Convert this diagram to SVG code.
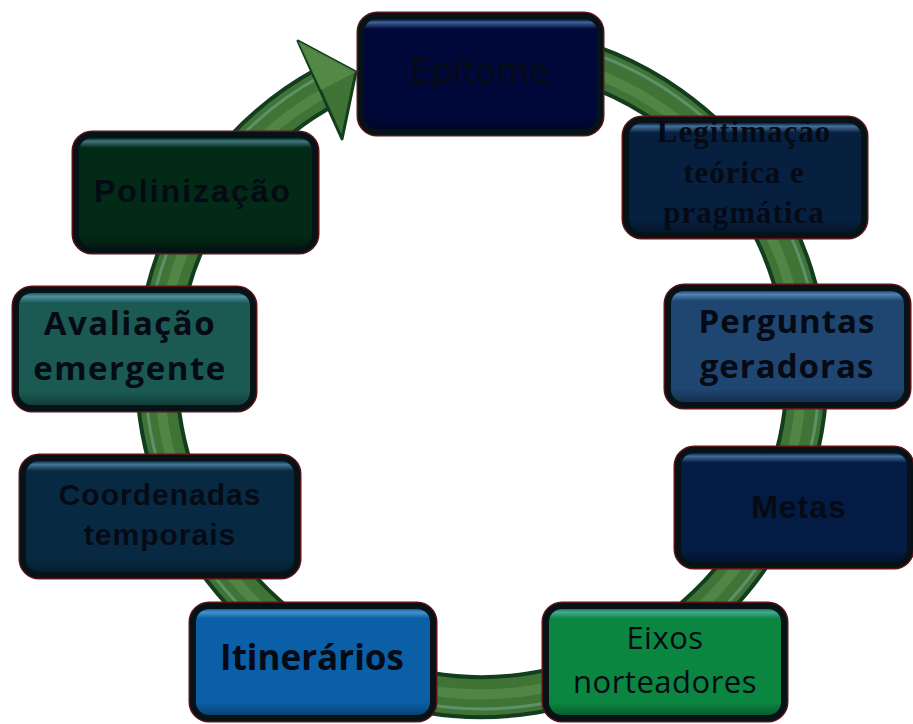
<svg xmlns="http://www.w3.org/2000/svg" width="913" height="724" viewBox="0 0 913 724">
<defs>
<linearGradient id="gloss" x1="0" y1="0" x2="0" y2="1">
<stop offset="0" stop-color="#8fd0ff" stop-opacity="0"/>
<stop offset="0.03" stop-color="#8fd0ff" stop-opacity="0.45"/>
<stop offset="0.09" stop-color="#8fd0ff" stop-opacity="0"/>
<stop offset="0.88" stop-color="#000" stop-opacity="0"/>
<stop offset="1" stop-color="#000" stop-opacity="0.3"/>
</linearGradient>
</defs>
<style>
.edge{fill:none;stroke:#5a1418;stroke-width:9}
.box{stroke:#061216;stroke-width:6}
.gl{fill:url(#gloss)}
.r0{fill:none;stroke:#123d1e;stroke-width:44}
.r1{fill:none;stroke:#3f7436;stroke-width:36}
.r2{fill:none;stroke:#5e9150;stroke-width:10;stroke-opacity:0.6}
.r3{fill:none;stroke:#7fb7a8;stroke-width:3;stroke-opacity:0.45}
.t{fill:#060a14;text-anchor:middle}
.os{font-family:"Open Sans","Liberation Sans",sans-serif;font-weight:bold}
.ls{font-family:"Liberation Sans",Arial,sans-serif;font-weight:bold}
.sf{font-family:"Liberation Serif","Times New Roman",serif;font-weight:bold}
</style>
<g id="connectors">
<path class="r0" d="M538.4 52 A325 325 0 1 1 326.9 86.4"/>
<path class="r1" d="M538.4 52 A325 325 0 1 1 326.9 86.4"/>
<path class="r2" d="M535 57 A321 321 0 1 1 328.9 90.5"/>
<path class="r3" d="M541 40 A337 337 0 1 1 321 76"/>
<polygon points="356,72 298,41 342,139" fill="#3f7436" stroke="#123d1e" stroke-width="3" stroke-linejoin="round"/>
<polygon points="356,72 298,41 321,90" fill="#5a8f4a" opacity="0.8"/>
</g>
<g id="epitome">
<rect class="edge" x="361" y="16" width="239" height="116" rx="16"/>
<rect class="box" x="361" y="16" width="239" height="116" rx="16" fill="#00083a"/>
<rect class="gl" x="364" y="19" width="233" height="110" rx="13"/>
<text class="t" x="480" y="83" font-family="DejaVu Sans,sans-serif" font-size="34" fill="#050a26">Epítome</text>
</g>
<g id="legitimacao">
<rect class="edge" x="626" y="120" width="238" height="115" rx="16"/>
<rect class="box" x="626" y="120" width="238" height="115" rx="16" fill="#072040"/>
<rect class="gl" x="629" y="123" width="232" height="109" rx="13"/>
<text class="t sf" font-size="31" letter-spacing="1"><tspan x="744" y="142">Legitimação</tspan><tspan x="744" y="183">teórica e</tspan><tspan x="744" y="223">pragmática</tspan></text>
</g>
<g id="perguntas">
<rect class="edge" x="668" y="288" width="239" height="117" rx="16"/>
<rect class="box" x="668" y="288" width="239" height="117" rx="16" fill="#1f4571"/>
<rect class="gl" x="671" y="291" width="233" height="111" rx="13"/>
<text class="t os" font-size="33" letter-spacing="1"><tspan x="787" y="333">Perguntas</tspan><tspan x="787" y="378">geradoras</tspan></text>
</g>
<g id="metas">
<rect class="edge" x="678" y="450" width="232" height="115" rx="16"/>
<rect class="box" x="678" y="450" width="232" height="115" rx="16" fill="#041c44"/>
<rect class="gl" x="681" y="453" width="226" height="109" rx="13"/>
<text class="t ls" x="799" y="518" font-size="32" letter-spacing="1">Metas</text>
</g>
<g id="eixos">
<rect class="edge" x="546" y="606" width="238" height="112" rx="16"/>
<rect class="box" x="546" y="606" width="238" height="112" rx="16" fill="#0b8640"/>
<rect class="gl" x="549" y="609" width="232" height="106" rx="13"/>
<text class="t" font-family="Open Sans,Liberation Sans,sans-serif" font-size="31" letter-spacing="0.5"><tspan x="665" y="649">Eixos</tspan><tspan x="665" y="693">norteadores</tspan></text>
</g>
<g id="itinerarios">
<rect class="edge" x="193" y="606" width="240" height="112" rx="16"/>
<rect class="box" x="193" y="606" width="240" height="112" rx="16" fill="#0a5fa6"/>
<rect class="gl" x="196" y="609" width="234" height="106" rx="13"/>
<text class="t os" x="312" y="670" font-size="35">Itinerários</text>
</g>
<g id="coordenadas">
<rect class="edge" x="23" y="458" width="274" height="117" rx="16"/>
<rect class="box" x="23" y="458" width="274" height="117" rx="16" fill="#072a42"/>
<rect class="gl" x="26" y="461" width="268" height="111" rx="13"/>
<text class="t ls" font-size="30" letter-spacing="1"><tspan x="160" y="505">Coordenadas</tspan><tspan x="160" y="545">temporais</tspan></text>
</g>
<g id="avaliacao">
<rect class="edge" x="16" y="290" width="237" height="118" rx="16"/>
<rect class="box" x="16" y="290" width="237" height="118" rx="16" fill="#1a5a52"/>
<rect class="gl" x="19" y="293" width="231" height="112" rx="13"/>
<text class="t os" font-size="33" letter-spacing="1.5"><tspan x="130" y="335">Avaliação</tspan><tspan x="130" y="380">emergente</tspan></text>
</g>
<g id="polinizacao">
<rect class="edge" x="76" y="135" width="239" height="115" rx="16"/>
<rect class="box" x="76" y="135" width="239" height="115" rx="16" fill="#022a16"/>
<rect class="gl" x="79" y="138" width="233" height="109" rx="13"/>
<text class="t ls" x="193" y="202" font-size="32" letter-spacing="2">Polinização</text>
</g>
</svg>
